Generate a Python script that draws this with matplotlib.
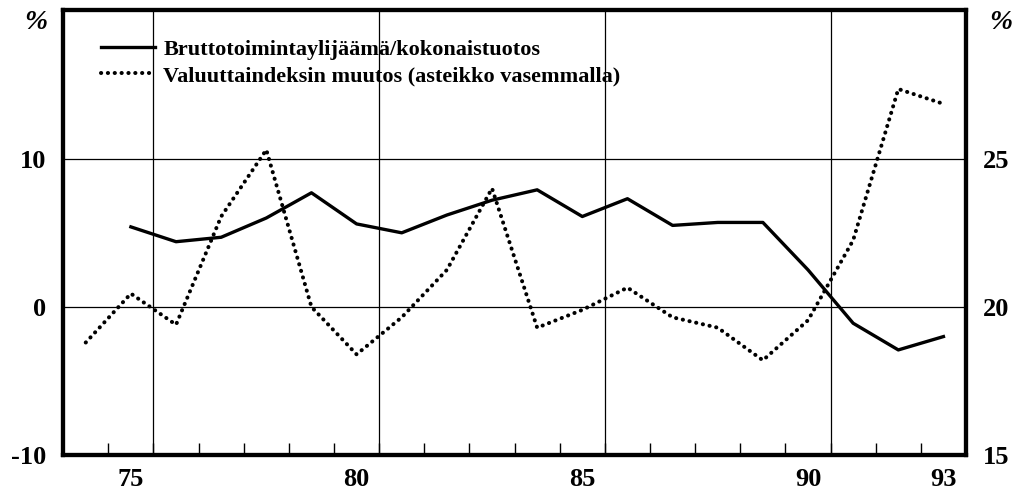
import numpy as np
import matplotlib.pyplot as plt

plt.rcParams['axes.unicode_minus'] = False

# vuodet 1974-1993
years = list(range(74, 94))

# Valuuttaindeksin muutos, % (vasen asteikko)
valuutta = [-2.4, 0.9, -1.2, 6.1, 10.6, 0.0, -3.2, -0.7, 2.5, 8.0,
            -1.4, -0.2, 1.3, -0.7, -1.4, -3.6, -0.9, 4.5, 14.7, 13.7]

# Bruttotoimintaylijäämä/kokonaistuotos, % (oikea asteikko), alkaa 1975
brutto_years = list(range(75, 94))
brutto = [22.7, 22.2, 22.35, 23.0, 23.85, 22.8, 22.5, 23.1, 23.6,
          23.95, 23.05, 23.65, 22.75, 22.85, 22.85, 21.25, 19.45, 18.55, 19.0]

left_ticks = [-10, 0, 10]
right_ticks = [15, 20, 25]
x_labels = [75, 80, 85, 90, 93]

serif = ['Liberation Serif', 'DejaVu Serif']

fig = plt.figure(figsize=(10.19, 4.98), dpi=100)
ax = fig.add_axes([0.062, 0.086, 0.886, 0.893])
ax2 = ax.twinx()

ax.set_xlim(73.5, 93.5)
ax.set_ylim(-10, 20)
ax2.set_ylim(15, 30)

# ruudukko
for v in [0, 10]:
    ax.axhline(v, color='black', lw=0.9, zorder=1)
for v in [75.5, 80.5, 85.5, 90.5]:
    ax.axvline(v, color='black', lw=0.9, zorder=1)

l2, = ax.plot(years, valuutta, color='black', lw=2.9,
              linestyle=(0, (0.05, 1.65)), dash_capstyle='round', zorder=3)
l1, = ax2.plot(brutto_years, brutto, color='black', lw=2.4, zorder=3)

# x-akseli: väliviivat vuosien välissä, numerot keskellä
ax.set_xticks(np.arange(74.5, 93, 1.0), minor=True)
ax.set_xticks(x_labels)
ax.set_xticklabels([str(x) for x in x_labels])
ax.tick_params(axis='x', which='major', length=0, pad=9)
ax.tick_params(axis='x', which='minor', direction='in', length=9, width=1)

ax.set_yticks(left_ticks)
ax2.set_yticks(right_ticks)
ax.tick_params(axis='y', length=0, pad=12)
ax2.tick_params(axis='y', length=0, pad=12)

for lab in ax.get_xticklabels() + ax.get_yticklabels() + ax2.get_yticklabels():
    lab.set_fontfamily(serif)
    lab.set_fontweight('bold')
    lab.set_fontsize(19)

for a in [ax, ax2]:
    for s in a.spines.values():
        s.set_linewidth(3)

fig.text(0.035, 0.955, '%', family=serif, fontsize=20, fontweight='bold',
         style='italic', ha='center', va='center')
fig.text(0.982, 0.955, '%', family=serif, fontsize=20, fontweight='bold',
         style='italic', ha='center', va='center')

leg = ax.legend([l1, l2],
                ['Bruttotoimintaylijäämä/kokonaistuotos',
                 'Valuuttaindeksin muutos (asteikko vasemmalla)'],
                loc='upper left', bbox_to_anchor=(0.02, 0.98), frameon=False,
                handlelength=2.4, handletextpad=0.4, labelspacing=0.25,
                prop={'family': serif, 'weight': 'bold', 'size': 16})

fig.savefig('out.png', dpi=100)
